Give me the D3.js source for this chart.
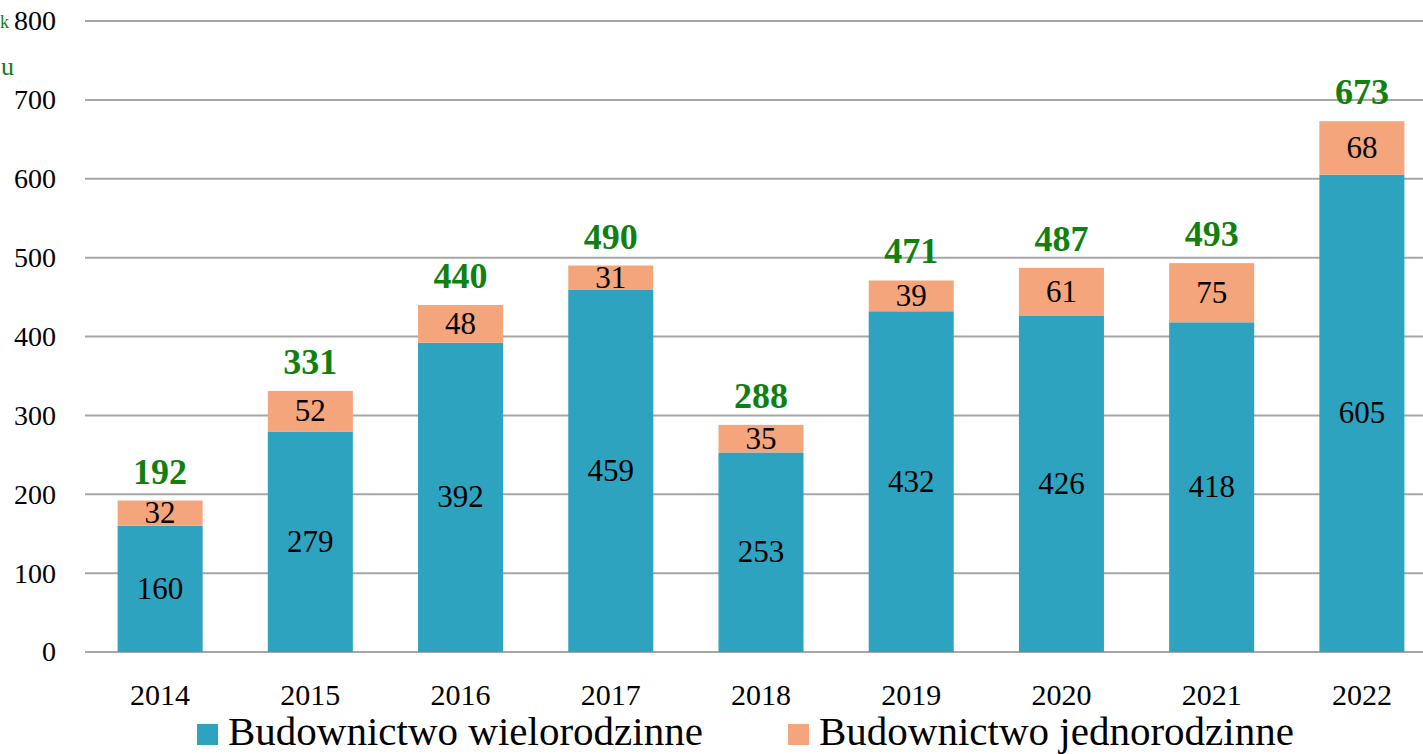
<!DOCTYPE html>
<html>
<head>
<meta charset="utf-8">
<script src="https://cdn.jsdelivr.net/npm/d3@7"></script>
<style>
  body { margin: 0; background: #fff; }
  svg text { font-family: "Liberation Serif", "DejaVu Serif", serif; }
</style>
</head>
<body>
<svg width="1423" height="754"></svg>
<script>
var years = ["2014", "2015", "2016", "2017", "2018", "2019", "2020", "2021", "2022"];
var multi = [160, 279, 392, 459, 253, 432, 426, 418, 605];
var single = [32, 52, 48, 31, 35, 39, 61, 75, 68];
var totals = [192, 331, 440, 490, 288, 471, 487, 493, 673];
var yTicks = [0, 100, 200, 300, 400, 500, 600, 700, 800];
var seriesNames = ["Budownictwo wielorodzinne", "Budownictwo jednorodzinne"];
var colors = ["#2ea3bf", "#f4a57b"];

var svg = d3.select("svg");

var x = d3.scaleBand().domain(years).range([85, 1437]).paddingInner(0.434).paddingOuter(0.217);
var y = d3.scaleLinear().domain([0, 800]).range([652, 21]);

// gridlines
svg.append("g").selectAll("line")
    .data(yTicks)
    .enter().append("line")
    .attr("x1", 85).attr("x2", 1423)
    .attr("y1", function(d) { return y(d); })
    .attr("y2", function(d) { return y(d); })
    .attr("stroke", "#a6a6a6")
    .attr("stroke-width", 2);

// y axis labels
var yAxis = svg.append("g")
    .attr("transform", "translate(64,0)")
    .call(d3.axisLeft(y).tickValues(yTicks).tickSize(0).tickPadding(8));
yAxis.select(".domain").remove();
yAxis.selectAll("text")
    .style("font-family", "Liberation Serif")
    .style("font-size", "28px")
    .attr("fill", "#000");

// x axis labels
var xAxis = svg.append("g")
    .attr("transform", "translate(0,705)")
    .call(d3.axisBottom(x).tickSize(0).tickPadding(0));
xAxis.select(".domain").remove();
xAxis.selectAll("text")
    .attr("y", 0).attr("dy", 0)
    .style("font-family", "Liberation Serif")
    .style("font-size", "30px")
    .attr("fill", "#000");

// axis title fragments at the left edge
svg.append("text").attr("x", 0).attr("y", 28)
    .attr("fill", "#108010").style("font-size", "18px").text("k");
svg.append("text").attr("x", 1).attr("y", 75)
    .attr("fill", "#108010").style("font-size", "26px").text("u");

var rows = years.map(function(yr, i) { return { year: yr, multi: multi[i], single: single[i], total: totals[i] }; });

// bottom segments
svg.append("g").selectAll("rect")
    .data(rows)
    .enter().append("rect")
    .attr("x", function(d) { return x(d.year); })
    .attr("width", x.bandwidth())
    .attr("y", function(d) { return y(d.multi); })
    .attr("height", function(d) { return y(0) - y(d.multi); })
    .attr("fill", colors[0]);

// top segments
svg.append("g").selectAll("rect")
    .data(rows)
    .enter().append("rect")
    .attr("x", function(d) { return x(d.year); })
    .attr("width", x.bandwidth())
    .attr("y", function(d) { return y(d.multi + d.single); })
    .attr("height", function(d) { return y(d.multi) - y(d.multi + d.single); })
    .attr("fill", colors[1]);

// segment labels
svg.append("g").selectAll("text")
    .data(rows)
    .enter().append("text")
    .attr("x", function(d) { return x(d.year) + x.bandwidth() / 2; })
    .attr("y", function(d) { return (y(0) + y(d.multi)) / 2 + 10; })
    .attr("text-anchor", "middle")
    .style("font-size", "31px")
    .text(function(d) { return d.multi; });

svg.append("g").selectAll("text")
    .data(rows)
    .enter().append("text")
    .attr("x", function(d) { return x(d.year) + x.bandwidth() / 2; })
    .attr("y", function(d) { return (y(d.multi) + y(d.multi + d.single)) / 2 + 10; })
    .attr("text-anchor", "middle")
    .style("font-size", "31px")
    .text(function(d) { return d.single; });

// totals
svg.append("g").selectAll("text")
    .data(rows)
    .enter().append("text")
    .attr("x", function(d) { return x(d.year) + x.bandwidth() / 2; })
    .attr("y", function(d) { return y(d.total) - 17; })
    .attr("text-anchor", "middle")
    .attr("fill", "#108010")
    .style("font-size", "36px")
    .style("font-weight", "bold")
    .text(function(d) { return d.total; });

// legend
var legendX = [197, 788];
var legend = svg.append("g").selectAll("g")
    .data(seriesNames)
    .enter().append("g")
    .attr("transform", function(d, i) { return "translate(" + legendX[i] + ",724)"; });
legend.append("rect")
    .attr("width", 21).attr("height", 21)
    .attr("fill", function(d, i) { return colors[i]; });
legend.append("text")
    .attr("x", 31).attr("y", 21)
    .style("font-size", "41px")
    .text(function(d) { return d; });
</script>
</body>
</html>
